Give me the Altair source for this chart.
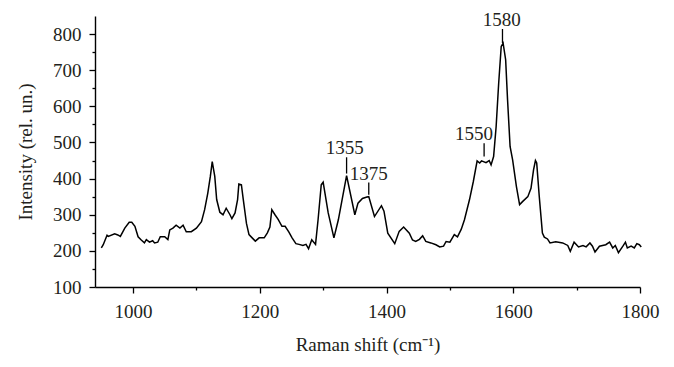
import altair as alt
import pandas as pd

# Spectrum (Raman shift, cm^-1) and intensity (rel. un.)
shift = [950, 953, 959, 961, 971, 976, 980, 987, 994, 998,
         1003, 1008, 1013, 1018, 1021, 1026, 1031, 1034, 1039, 1043,
         1050, 1055, 1058, 1063, 1068, 1074, 1079, 1084, 1092, 1100,
         1108, 1113, 1118, 1122, 1125, 1129, 1132, 1137, 1142, 1147,
         1153, 1156, 1161, 1165, 1167, 1171, 1174, 1179, 1183, 1188,
         1193, 1199, 1207, 1212, 1216, 1219, 1224, 1229, 1235, 1240,
         1246, 1251, 1257, 1262, 1268, 1273, 1277, 1282, 1288, 1292,
         1297, 1300, 1308, 1317, 1324, 1337, 1350, 1355, 1362, 1369,
         1372, 1381, 1392, 1396, 1402, 1413, 1420, 1427, 1436, 1441,
         1446, 1452, 1457, 1462, 1470, 1478, 1484, 1490, 1494, 1500,
         1507, 1512, 1518, 1523, 1531, 1537, 1543, 1547, 1550, 1557,
         1562, 1565, 1569, 1573, 1577, 1581, 1584, 1588, 1591, 1595,
         1599, 1605, 1610, 1615, 1623, 1628, 1632, 1635, 1637, 1641,
         1646, 1649, 1654, 1658, 1667, 1678, 1686, 1690, 1696, 1703,
         1710, 1715, 1721, 1725, 1729, 1736, 1746, 1752, 1757, 1761,
         1766, 1773, 1777, 1780, 1786, 1791, 1795, 1799, 1802]
intensity = [208, 217, 243, 240, 247, 244, 240, 263, 279, 279,
             268, 239, 230, 222, 231, 224, 228, 222, 224, 239,
             239, 231, 258, 263, 271, 263, 271, 253, 253, 263,
             281, 314, 360, 406, 447, 406, 342, 307, 300, 318,
             300, 289, 305, 342, 385, 383, 342, 276, 245, 236,
             227, 236, 236, 250, 266, 314, 300, 287, 268, 268,
             252, 236, 220, 218, 215, 218, 206, 231, 218, 286,
             383, 390, 305, 236, 286, 408, 300, 332, 345, 349,
             350, 295, 325, 310, 249, 220, 254, 266, 249, 230,
             226, 232, 242, 226, 222, 217, 211, 213, 226, 224,
             245, 239, 260, 286, 342, 392, 449, 443, 449, 444,
             450, 438, 461, 544, 664, 766, 775, 729, 618, 489,
             452, 378, 328, 337, 350, 373, 424, 450, 443, 351,
             249, 238, 233, 222, 225, 222, 215, 199, 224, 211,
             215, 211, 222, 213, 197, 213, 217, 224, 208, 215,
             195, 213, 224, 208, 213, 208, 220, 217, 211]

# Peak annotations
peak_labels = ["1355", "1375", "1550", "1580"]
peak_x = [1337, 1372, 1554, 1583]
peak_tick_low = [414, 355, 461, 775]
peak_tick_high = [459, 389, 498, 814]
peak_text_x = [1334, 1372, 1538, 1582]
peak_text_y = [469, 397, 506, 823]

# Axis ticks (major ones are labelled, minor ones are short and unlabelled)
x_ticks = [1000, 1100, 1200, 1300, 1400, 1500, 1600, 1700, 1800]
y_ticks = [100, 150, 200, 250, 300, 350, 400, 450, 500, 550, 600, 650, 700, 750, 800]
x_major_step = 200
y_major_step = 100

FONT = "Liberation Serif"
INK = "#231f20"
FS = 19

spec_df = pd.DataFrame({"shift": shift, "intensity": intensity})
ann_df = pd.DataFrame({
    "label": peak_labels, "px": peak_x, "lo": peak_tick_low,
    "hi": peak_tick_high, "tx": peak_text_x, "ty": peak_text_y,
})

xscale = alt.Scale(domain=[940, 1800], nice=False, zero=False)
yscale = alt.Scale(domain=[100, 850], nice=False, zero=False)

x_minor_test = f"datum.value % {x_major_step} != 0"
y_minor_test = f"datum.value % {y_major_step} != 0"

line = alt.Chart(spec_df).mark_line(color="black", strokeWidth=1.5).encode(
    x=alt.X("shift:Q", scale=xscale,
            axis=alt.Axis(values=x_ticks, orient="bottom", title="Raman shift (cm⁻¹)",
                          format="d", labelOverlap=False, labelFlush=False,
                          labelExpr=f"datum.value % {x_major_step} == 0 ? datum.label : ''",
                          tickSize={"condition": {"test": x_minor_test, "value": 3}, "value": 6},
                          labelPadding=9, titleY=63,
                          titleBaseline="alphabetic")),
    y=alt.Y("intensity:Q", scale=yscale,
            axis=alt.Axis(values=y_ticks, orient="left", title="Intensity (rel. un.)",
                          format="d", labelOverlap=False, labelFlush=False,
                          labelExpr=f"datum.value % {y_major_step} == 0 ? datum.label : ''",
                          tickSize={"condition": {"test": y_minor_test, "value": 3}, "value": 6},
                          labelPadding=8, titleX=-60)),
)

rules = alt.Chart(ann_df).mark_rule(color="black", strokeWidth=1.3).encode(
    x=alt.X("px:Q", scale=xscale, axis=None),
    y=alt.Y("lo:Q", scale=yscale, axis=None),
    y2="hi:Q",
)

texts = alt.Chart(ann_df).mark_text(
    font=FONT, fontSize=FS, color=INK, baseline="alphabetic", align="center"
).encode(
    x=alt.X("tx:Q", scale=xscale, axis=None),
    y=alt.Y("ty:Q", scale=yscale, axis=None),
    text="label:N",
)

chart = alt.layer(line, rules, texts).resolve_axis(
    x="independent", y="independent"
).properties(
    width=545, height=271,
    padding={"left": 87, "top": 8, "right": 20, "bottom": 72},
    autosize=alt.AutoSizeParams(type="none"),
).configure_view(
    stroke="transparent"
).configure_axis(
    grid=False,
    labelFont=FONT, labelFontSize=FS, labelColor=INK,
    titleFont=FONT, titleFontSize=FS, titleColor=INK, titleFontWeight="normal",
    domainColor="black", domainWidth=1.4, tickColor="black", tickWidth=1.3,
)

chart.save("out.html", embed_options={"renderer": "svg", "actions": False})
